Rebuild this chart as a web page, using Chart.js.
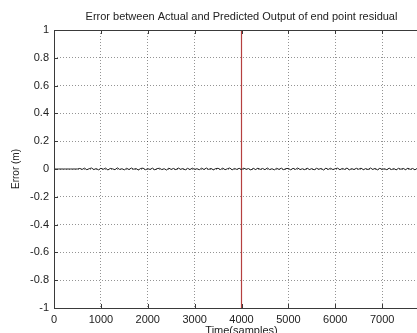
<!DOCTYPE html>
<html>
<head>
<meta charset="utf-8">
<script src="https://cdn.jsdelivr.net/npm/chart.js@4/dist/chart.umd.min.js"></script>
<style>
    html, body { margin: 0; padding: 0; background: #fff; overflow: hidden; }
    #wrap { position: relative; width: 482px; height: 342px; }
</style>
</head>
<body>
<div id="wrap"><canvas id="errorChart" width="482" height="342"></canvas></div>
<script>
// Spacing (in samples) between stored points
const sampleStep = 50;

// Residual error (m), one value every 50 samples from 0 to 8000
const errorValues = [
    0, 0, 0, 0, 0, 0, 0, 0, 0, 0, 0,
    0.004, -0.003, 0.006, -0.005, 0.002, 0.007, -0.004, 0.003, -0.006, 0.005,
    -0.002, 0.006, -0.007, 0.004, 0.001, -0.005, 0.008, -0.003, 0.002, -0.006,
    0.005, -0.004, 0.007, -0.002, 0.003, -0.007, 0.004, 0.006, -0.005, 0.002,
    -0.003, 0.006, -0.006, 0.003, 0.005, -0.004, 0.002, -0.007, 0.006, -0.003,
    0.004, -0.005, 0.007, -0.002, 0.003, -0.006, 0.005, -0.004, 0.006, -0.003,
    0.002, -0.005, 0.006, -0.004, 0.007, -0.003, 0.004, -0.006, 0.003, 0.005,
    -0.004, 0.006, -0.005, 0.002, 0.007, -0.006, 0.004, -0.003, 0.005, -0.004,
    0.006, -0.002, 0.003, -0.007, 0.005, -0.004, 0.006, -0.003, 0.004, -0.005,
    0.007, -0.004, 0.002, -0.006, 0.005, -0.003, 0.006, -0.005, 0.003, 0.004,
    -0.006, 0.005, -0.003, 0.007, -0.004, 0.002, -0.005, 0.006, -0.004, 0.003,
    -0.006, 0.005, -0.002, 0.004, -0.007, 0.006, -0.003, 0.005, -0.004, 0.002,
    0.006, -0.005, 0.004, -0.003, 0.007, -0.006, 0.003, -0.004, 0.005, -0.002,
    0.006, -0.005, 0.003, -0.004, 0.007, -0.003, 0.004, -0.006, 0.005, -0.003,
    0.002, -0.005, 0.006, -0.004, 0.003, -0.006, 0.005, -0.002, 0.004, -0.005,
    0.006, -0.003, 0.004, -0.006, 0.005, -0.004, 0.003, -0.005, 0.006, -0.002
];

// Vertical marker at sample 4000
const markerSample = 4000;
const markerRange = [-1, 1];

// Axis limits and tick spacing
const xRange = [0, 8000];
const xStep = 1000;
const xLabelledTicks = [0, 1000, 2000, 3000, 4000, 5000, 6000, 7000];
const yRange = [-1, 1];
const yStep = 0.2;

const titleText = 'Error between Actual and Predicted Output of end point residual';
const xLabel = 'Time(samples)';
const yLabel = 'Error (m)';

const axisColor = '#3a3a3a';
const textColor = '#222';
const fontFamily = '"Liberation Sans", Arial, sans-serif';

// Title centred over the plot area, axis box and inward tick marks
const boxPlugin = {
    id: 'matlabBox',
    afterDraw(chart) {
        const { ctx, chartArea: a, scales } = chart;
        ctx.save();
        ctx.strokeStyle = axisColor;
        ctx.lineWidth = 1;
        ctx.beginPath();
        ctx.rect(Math.round(a.left) + 0.5, Math.round(a.top) + 0.5,
                 Math.round(a.right - a.left), Math.round(a.bottom - a.top));
        ctx.stroke();

        // inward ticks
        ctx.beginPath();
        scales.x.ticks.forEach(t => {
            const px = Math.round(scales.x.getPixelForValue(t.value)) + 0.5;
            ctx.moveTo(px, a.bottom);
            ctx.lineTo(px, a.bottom - 4);
            ctx.moveTo(px, a.top);
            ctx.lineTo(px, a.top + 4);
        });
        scales.y.ticks.forEach(t => {
            const py = Math.round(scales.y.getPixelForValue(t.value)) + 0.5;
            ctx.moveTo(a.left, py);
            ctx.lineTo(a.left + 4, py);
            ctx.moveTo(a.right, py);
            ctx.lineTo(a.right - 4, py);
        });
        ctx.stroke();

        ctx.fillStyle = textColor;
        ctx.font = '11px ' + fontFamily;
        ctx.textAlign = 'center';
        ctx.textBaseline = 'middle';
        ctx.fillText(titleText, (a.left + a.right) / 2, 17);
        ctx.restore();
    }
};

document.addEventListener('DOMContentLoaded', () => {
    const errorPoints = errorValues.map((v, i) => ({ x: i * sampleStep, y: v }));
    const markerPoints = markerRange.map(v => ({ x: markerSample, y: v }));

    const ctx = document.getElementById('errorChart').getContext('2d');
    new Chart(ctx, {
        type: 'line',
        data: {
            datasets: [{
                label: 'Error',
                data: errorPoints,
                borderColor: '#1e1e1e',
                borderWidth: 1,
                pointRadius: 0,
                tension: 0
            }, {
                label: 'Marker',
                data: markerPoints,
                borderColor: '#b5403f',
                borderWidth: 1.2,
                pointRadius: 0
            }]
        },
        options: {
            responsive: false,
            animation: false,
            layout: {
                padding: { top: 30, right: 53, left: 0, bottom: 0 }
            },
            plugins: {
                legend: { display: false },
                title: { display: false },
                tooltip: { enabled: false }
            },
            scales: {
                x: {
                    type: 'linear',
                    min: xRange[0],
                    max: xRange[1],
                    afterFit: s => { s.height = 34; },
                    grid: {
                        color: 'rgba(0,0,0,0.42)',
                        drawTicks: false
                    },
                    border: { display: false, dash: [1, 2] },
                    ticks: {
                        stepSize: xStep,
                        padding: 5,
                        color: textColor,
                        font: { family: fontFamily, size: 11 },
                        maxRotation: 0,
                        callback: v => xLabelledTicks.includes(v) ? String(v) : ''
                    },
                    title: {
                        display: true,
                        text: xLabel,
                        color: textColor,
                        font: { family: fontFamily, size: 11 },
                        padding: { top: 0, bottom: 4 }
                    }
                },
                y: {
                    type: 'linear',
                    min: yRange[0],
                    max: yRange[1],
                    afterFit: s => { s.width = 54; },
                    grid: {
                        color: 'rgba(0,0,0,0.42)',
                        drawTicks: false
                    },
                    border: { display: false, dash: [1, 2] },
                    ticks: {
                        stepSize: yStep,
                        padding: 5,
                        color: textColor,
                        font: { family: fontFamily, size: 11 },
                        callback: v => String(Math.round(v * 10) / 10)
                    },
                    title: {
                        display: true,
                        text: yLabel,
                        color: textColor,
                        font: { family: fontFamily, size: 10 },
                        padding: { top: 10, bottom: 0 }
                    }
                }
            }
        },
        plugins: [boxPlugin]
    });
});
</script>
</body>
</html>
